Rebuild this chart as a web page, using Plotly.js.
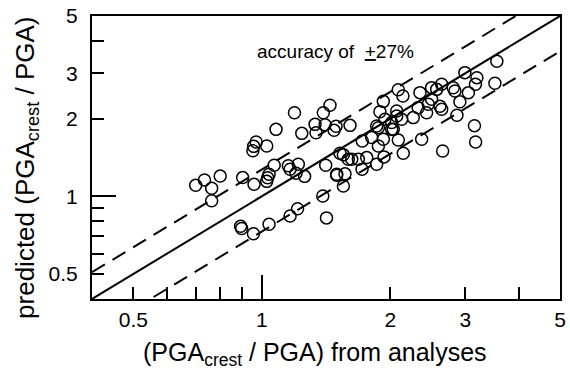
<!DOCTYPE html>
<html>
<head>
<meta charset="utf-8">
<script src="https://cdn.plot.ly/plotly-3.0.1.min.js"></script>
<style>html,body{margin:0;padding:0;background:#fff;}#chart{width:570px;height:373px;}</style>
</head>
<body>
<div id="chart"></div>
<script>
// Data (PGA_crest/PGA from analyses vs predicted)
const analysed = [0.700,0.734,0.763,0.799,0.763,0.902,0.959,1.027,1.032,1.040,1.069,0.953,0.957,0.970,1.027,1.080,1.193,1.241,1.154,1.165,1.218,1.203,1.260,1.333,1.340,1.394,1.445,1.407,1.493,1.412,1.498,1.390,1.418,1.213,1.165,1.040,0.892,0.897,0.956,1.610,1.525,1.553,1.595,1.625,1.684,1.762,1.498,1.567,1.553,1.718,1.859,1.934,1.720,1.810,1.876,1.927,2.089,2.146,1.876,1.892,1.927,1.944,2.016,2.033,2.071,2.127,2.089,2.142,2.265,2.348,2.326,2.370,2.434,2.456,2.501,2.501,2.570,2.640,2.616,2.640,2.810,2.836,2.913,2.867,2.654,3.050,2.993,3.193,3.168,3.519,3.556,3.151,3.171,1.859,1.477,2.071,2.016];
const predicted = [1.103,1.158,1.074,1.198,0.961,1.182,1.113,1.143,1.180,1.217,1.319,1.501,1.562,1.623,1.567,1.818,2.110,1.754,1.313,1.273,1.331,1.228,1.195,1.901,1.765,2.110,2.253,1.893,1.868,1.319,1.206,1.003,0.825,0.895,0.839,0.779,0.765,0.751,0.716,1.884,1.468,1.448,1.391,1.391,1.391,1.413,1.217,1.222,1.096,1.273,1.331,1.422,1.638,1.689,1.567,1.664,1.653,1.468,1.846,2.126,2.334,1.988,1.931,1.818,2.141,1.988,2.587,2.448,2.019,2.523,2.207,1.664,2.110,2.273,2.638,2.377,2.598,2.718,2.233,2.174,2.634,2.560,2.324,2.061,1.498,2.523,3.016,2.884,2.718,2.742,3.337,1.879,1.623,1.873,1.802,2.047,1.818];

const axisRange = [0.4, 5];
const accuracy = 0.27;
const tickVals = [0.5, 0.6, 0.7, 0.8, 0.9, 1, 2, 3, 4, 5];
const tickText = ['0.5', '', '', '', '', '1', '2', '3', '', '5'];
const longTick = [1];
const xTitle = '(PGA<sub>crest</sub> / PGA) from analyses';
const yTitle = 'predicted (PGA<sub>crest</sub> / PGA)';
const noteText = 'accuracy of  <u>+</u>27%';

const logRange = axisRange.map(v => Math.log10(v));
const lineX = axisRange.slice();
const FONT = 'Liberation Sans, Arial, sans-serif';

const traces = [
  {x: lineX, y: lineX.map(v => v), mode: 'lines', line: {color: '#000', width: 2}, hoverinfo: 'skip'},
  {x: lineX, y: lineX.map(v => v * (1 + accuracy)), mode: 'lines', line: {color: '#000', width: 2, dash: '15px,9px'}, hoverinfo: 'skip'},
  {x: lineX, y: lineX.map(v => v * (1 - accuracy)), mode: 'lines', line: {color: '#000', width: 2, dash: '15px,9px'}, hoverinfo: 'skip'},
  {x: analysed, y: predicted, mode: 'markers', cliponaxis: false,
   marker: {symbol: 'circle-open', size: 12, color: '#000', line: {width: 1.5, color: '#000'}}},
  {x: longTick, y: longTick, xaxis: 'x2', yaxis: 'y2', mode: 'markers', marker: {opacity: 0}, hoverinfo: 'skip'}
];

const baseAxis = {
  type: 'log', range: logRange, showgrid: false, zeroline: false,
  showline: true, mirror: true, linecolor: '#000', linewidth: 2,
  ticks: 'inside', ticklen: 12, tickwidth: 2, tickcolor: '#000',
  tickvals: tickVals, ticktext: tickText,
  tickfont: {family: FONT, size: 21, color: '#000'}
};
const overlayAxis = {
  type: 'log', range: logRange, showgrid: false, zeroline: false, showline: false,
  ticks: 'inside', ticklen: 24, tickwidth: 2, tickcolor: '#000',
  tickvals: longTick, showticklabels: false
};

const layout = {
  width: 570, height: 373,
  margin: {l: 92, r: 10, t: 16, b: 74},
  paper_bgcolor: '#fff', plot_bgcolor: '#fff',
  showlegend: false,
  font: {family: FONT, color: '#000'},
  xaxis: Object.assign({}, baseAxis, {ticklabelstandoff: 1}),
  yaxis: Object.assign({}, baseAxis, {ticklabelstandoff: 8}),
  xaxis2: Object.assign({}, overlayAxis, {overlaying: 'x', anchor: 'y', side: 'bottom'}),
  yaxis2: Object.assign({}, overlayAxis, {overlaying: 'y', anchor: 'x', side: 'left'}),
  annotations: [
    {xref: 'paper', yref: 'paper', x: 0.521, y: 0.876, xanchor: 'center', yanchor: 'middle',
     text: noteText, showarrow: false, font: {family: FONT, size: 19, color: '#000'}},
    {xref: 'paper', yref: 'paper', x: 0.476, y: -0.195, xanchor: 'center', yanchor: 'middle',
     text: xTitle, showarrow: false, font: {family: FONT, size: 25, color: '#000'}},
    {xref: 'paper', yref: 'paper', x: -0.139, y: 0.463, xanchor: 'center', yanchor: 'middle',
     text: yTitle, textangle: -90, showarrow: false, font: {family: FONT, size: 26, color: '#000'}}
  ]
};

Plotly.newPlot('chart', traces, layout, {displayModeBar: false, staticPlot: true});
</script>
</body>
</html>
